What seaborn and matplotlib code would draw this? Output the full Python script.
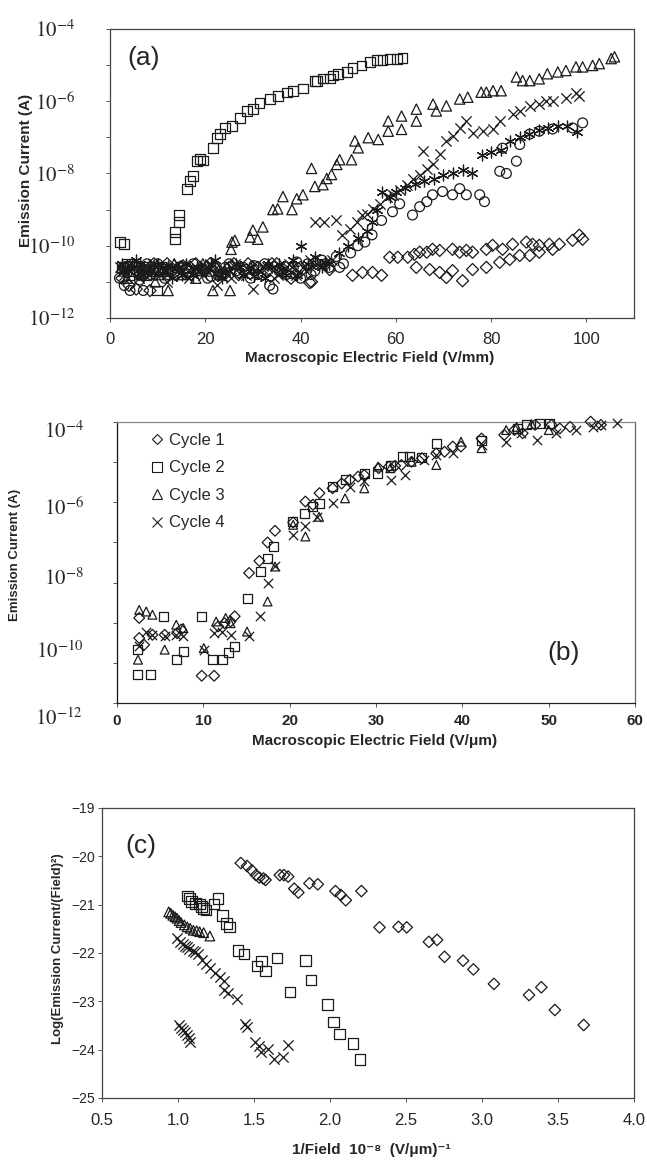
import numpy as np
import matplotlib
matplotlib.use("Agg")
import matplotlib.pyplot as plt
import matplotlib.transforms as mtrans
from matplotlib.lines import Line2D
from matplotlib.ticker import FixedLocator, NullFormatter
import seaborn as sns

# ---------------- panel (a): field in V/mm, current as log10 exponent ----------------
a_sq_x = [2.1, 2.9, 3.5, 4.8, 6.0, 7.5, 9.0, 9.9, 10.8, 12.0, 13.6, 13.6, 14.4, 14.4, 16.1, 16.8, 17.4, 18.2,
          18.9, 19.5, 21.6, 22.4, 23.1, 24.1, 25.6, 27.3, 28.7, 30.0, 31.4, 33.5, 35.2, 37.1, 38.4, 40.5, 43.0,
          43.4, 44.7, 46.1, 46.8, 47.8, 49.7, 50.9, 52.8, 54.5, 56.0, 57.2, 58.7, 60.2, 61.4,
          2.5, 4.0, 5.4, 6.8, 8.2, 11.5]
a_sq_e = [-9.9, -9.95, -10.5, -10.7, -10.6, -10.8, -10.7, -11.24, -10.6, -10.7, -9.82, -9.62, -9.34, -9.15,
          -8.42, -8.22, -8.08, -7.66, -7.61, -7.64, -7.30, -7.02, -6.91, -6.74, -6.69, -6.46, -6.27, -6.21,
          -6.04, -5.93, -5.85, -5.76, -5.71, -5.65, -5.43, -5.45, -5.37, -5.37, -5.29, -5.25, -5.20, -5.09,
          -5.01, -4.92, -4.87, -4.87, -4.84, -4.84, -4.81,
          -10.6, -10.8, -10.55, -10.7, -10.6, -10.65]

a_tri_x = [2.5, 3.5, 5.0, 6.5, 8.0, 9.5, 11.0, 12.2, 13.5, 15.0, 16.5, 18.0, 19.5, 21.0, 21.6, 23.0, 24.5, 25.2,
           25.6, 26.2, 25.4, 29.4, 31.0, 30.0, 32.1, 34.2, 35.2, 36.3, 38.2, 39.2, 40.5, 42.3, 43.0, 44.7, 45.5,
           46.5, 47.6, 48.2, 50.7, 51.4, 52.1, 54.2, 56.3, 58.4, 58.4, 61.2, 61.2, 64.3, 64.3, 67.8, 68.5, 70.6,
           73.4, 75.1, 77.9, 79.0, 80.4, 82.1, 85.3, 86.6, 88.1, 90.1, 91.8, 94.0, 95.7, 97.8, 99.2, 101.3,
           102.7, 105.2, 105.9,
           3.0, 4.2, 7.2, 10.2, 14.2, 17.2, 20.2, 22.5]
a_tri_e = [-10.6, -10.9, -10.5, -10.8, -10.6, -11.0, -10.7, -11.24, -10.5, -10.8, -10.6, -10.9, -10.5, -10.7,
           -11.24, -10.8, -10.6, -11.24, -9.90, -9.85, -10.1, -9.76, -9.82, -9.57, -9.48, -9.0, -8.98, -8.64,
           -9.0, -8.70, -8.59, -7.86, -8.36, -8.31, -8.14, -8.03, -7.75, -7.62, -7.62, -7.10, -7.29, -7.01,
           -7.06, -6.55, -6.83, -6.41, -6.78, -6.22, -6.55, -6.08, -6.27, -6.13, -5.94, -5.89, -5.75, -5.75,
           -5.71, -5.71, -5.33, -5.43, -5.43, -5.38, -5.24, -5.19, -5.15, -5.05, -5.05, -5.01, -4.96, -4.82,
           -4.77,
           -10.7, -10.55, -10.65, -10.8, -10.6, -10.7, -10.55, -10.75]

a_x_x = [2.0, 3.0, 4.5, 6.0, 7.5, 9.0, 10.5, 12.0, 13.5, 15.0, 16.5, 18.0, 19.5, 21.0, 22.5, 24.0, 25.5, 27.0,
         28.5, 30.0, 31.5, 33.0, 34.5, 36.0, 37.5, 39.0, 40.5, 42.0, 43.5, 43.0, 45.0, 47.5, 48.8, 50.3, 51.8,
         52.8, 53.9, 55.1, 56.6, 58.1, 59.3, 60.8, 62.3, 63.5, 65.0, 65.8, 66.5, 67.7, 69.2, 70.6, 71.9, 73.4,
         74.8, 76.1, 78.2, 80.3, 81.8, 84.5, 86.0, 88.1, 90.1, 91.6, 92.9, 95.8, 97.9, 98.5,
         2.7, 5.2, 8.2, 11.2, 14.2, 17.2, 20.2, 23.2, 26.2, 29.2, 32.2, 35.2, 38.2, 41.2, 44.2, 46.5]
a_x_e = [-10.6, -10.8, -10.5, -10.9, -10.7, -10.5, -10.8, -11.0, -10.6, -10.7, -10.9, -10.6, -10.8, -10.5,
         -11.1, -10.7, -10.9, -10.6, -10.8, -11.2, -10.7, -10.6, -10.9, -10.7, -10.5, -10.8, -10.6, -10.4,
         -10.5, -9.35, -9.35, -9.30, -9.71, -9.54, -9.34, -9.15, -9.12, -8.98, -8.84, -8.64, -8.59, -8.45,
         -8.31, -8.14, -8.03, -7.38, -7.89, -7.75, -7.47, -7.10, -6.97, -6.74, -6.55, -6.88, -6.83, -6.77,
         -6.55, -6.36, -6.27, -6.13, -6.07, -5.99, -5.99, -5.90, -5.76, -5.85,
         -10.7, -10.55, -10.8, -10.6, -10.5, -10.75, -10.65, -10.8, -10.5, -10.7, -10.55, -10.8, -10.6,
         -10.7, -10.5, -10.4]

a_ast_x = [2.5, 4.0, 5.5, 7.0, 8.5, 10.0, 11.5, 13.0, 14.5, 16.0, 17.5, 19.0, 20.5, 22.0, 23.5, 25.0, 26.5,
           28.0, 29.5, 31.0, 32.5, 34.0, 35.5, 37.0, 38.5, 40.0, 41.5, 43.0, 44.5, 46.0, 48.0, 50.0, 52.0,
           54.0, 55.0, 56.0, 57.0, 58.7, 60.0, 62.0, 64.0, 66.0, 68.0, 70.0, 72.0, 74.0, 76.0, 78.0, 80.0,
           82.0, 84.0, 86.0, 88.0, 90.0, 92.0, 94.0, 96.0, 98.0,
           3.2, 6.2, 9.2, 12.2, 15.2, 18.2, 21.2, 24.2, 27.2, 30.2, 33.2, 36.2, 39.2, 42.2, 45.2]
a_ast_e = [-10.5, -10.7, -10.4, -10.8, -10.6, -10.5, -10.7, -10.9, -10.6, -10.5, -10.8, -10.7, -10.6, -10.4,
           -10.9, -10.7, -10.5, -10.8, -10.6, -10.7, -10.9, -10.6, -10.5, -10.8, -10.4, -10.0, -10.5, -10.3,
           -10.6, -10.5, -10.2, -10.0, -9.8, -9.6, -9.35, -9.0, -8.5, -8.64, -8.5, -8.4, -8.3, -8.2, -8.15,
           -8.05, -8.0, -7.9, -8.0, -7.5, -7.4, -7.35, -7.1, -7.0, -6.9, -6.8, -6.75, -6.7, -6.7, -6.85,
           -10.6, -10.5, -10.75, -10.55, -10.8, -10.6, -10.5, -10.75, -10.6, -10.85, -10.5, -10.65, -10.8,
           -10.55, -10.45]

a_ci_x = [2.0, 3.0, 4.2, 5.5, 7.0, 8.5, 10.0, 11.5, 13.0, 14.5, 16.0, 17.5, 19.0, 20.5, 22.0, 23.5, 25.0,
          26.5, 28.0, 29.5, 31.0, 32.5, 33.5, 34.2, 35.5, 37.0, 38.5, 40.0, 41.5, 43.0, 44.5, 46.0, 47.5,
          49.0, 50.5, 52.0, 53.5, 55.0, 57.0, 59.3, 60.8, 63.5, 65.0, 66.5, 67.7, 69.8, 71.9, 73.4, 74.8,
          77.6, 78.6, 81.8, 82.4, 83.2, 85.3, 86.0, 88.1, 90.1, 92.9, 97.1, 99.2,
          2.8, 3.6, 6.2, 7.8, 9.2, 12.2, 15.2, 18.2, 21.2, 24.2, 27.2, 30.2, 36.2, 39.2, 42.2, 45.2, 48.2]
a_ci_e = [-10.9, -11.1, -11.24, -10.7, -11.24, -10.8, -10.5, -10.9, -10.7, -10.6, -10.8, -10.5, -10.7, -10.9,
          -10.6, -10.8, -10.5, -10.7, -10.6, -10.9, -10.8, -10.5, -11.1, -11.2, -10.7, -10.8, -10.6, -10.9,
          -10.5, -10.7, -10.4, -10.6, -10.3, -10.5, -10.2, -10.0, -9.9, -9.7, -9.3, -9.06, -8.84, -9.15,
          -8.92, -8.78, -8.59, -8.50, -8.59, -8.42, -8.59, -8.59, -8.78, -7.94, -7.3, -8.0, -7.66, -7.2,
          -6.91, -6.83, -6.77, -6.74, -6.6,
          -10.6, -10.75, -10.95, -10.5, -10.65, -10.8, -10.55, -10.7, -10.85, -10.6, -10.75, -10.55, -10.65,
          -10.45, -10.8, -10.5, -10.6]

a_di_x = [2.5, 4.0, 5.5, 7.0, 8.4, 10.0, 12.0, 14.0, 16.0, 18.0, 20.0, 22.0, 24.0, 26.0, 28.0, 30.0, 32.0,
          34.0, 36.0, 38.0, 40.0, 41.9, 42.3, 46.1, 50.9, 53.0, 55.1, 57.0, 58.7, 60.4, 62.5, 63.9, 65.0, 66.5,
          67.7, 69.2, 71.9, 73.4, 74.8, 76.1, 79.0, 80.3, 82.4, 84.5, 87.4, 88.7, 90.1, 92.2, 94.3, 97.1,
          98.5, 99.2, 64.3, 67.1, 69.2, 70.6, 71.9, 74.0, 76.1, 79.0, 81.8, 83.9, 86.0, 88.1, 90.1, 92.9,
          3.2, 6.2, 9.2, 13.0, 15.0, 17.0, 19.0, 21.0, 23.0, 25.0, 27.0, 29.0, 31.0, 33.0, 35.0, 37.0, 39.0]
a_di_e = [-10.9, -11.1, -11.2, -10.8, -11.24, -10.7, -10.5, -10.8, -10.6, -10.5, -10.7, -10.6, -10.8, -10.5,
          -10.7, -10.6, -10.8, -10.5, -10.7, -10.9, -10.6, -11.02, -11.0, -10.66, -10.82, -10.74, -10.74,
          -10.82, -10.32, -10.32, -10.32, -10.24, -10.18, -10.18, -10.10, -10.13, -10.10, -10.18, -10.13,
          -10.18, -10.10, -9.99, -10.10, -9.96, -9.90, -9.96, -9.99, -9.96, -9.96, -9.85, -9.71, -9.82,
          -10.60, -10.66, -10.74, -10.88, -10.69, -10.97, -10.66, -10.60, -10.46, -10.38, -10.27, -10.27,
          -10.18, -10.10,
          -10.6, -10.8, -10.5, -10.7, -10.6, -10.8, -10.6, -10.5, -10.7, -10.6, -10.8, -10.5, -10.6, -10.7,
          -10.5, -10.6, -10.8]

# ---------------- panel (b): field in V/um, current as log10 exponent ----------------
b_c1_x = [2.56, 2.56, 3.13, 4.09, 5.51, 6.95, 7.42, 9.80, 11.24, 11.71, 12.43, 13.14, 13.62, 15.29, 16.48,
          17.43, 18.29, 20.39, 21.81, 22.68, 23.44, 24.96, 26.01, 26.97, 27.92, 28.63, 30.30, 31.49, 32.21,
          32.92, 34.11, 35.31, 36.97, 37.93, 38.88, 39.83, 42.21, 44.84, 46.03, 46.98, 48.42, 50.32, 51.28,
          52.47, 54.85, 56.04]
b_c1_e = [-8.88, -9.38, -9.55, -9.30, -9.30, -9.26, -9.17, -10.32, -10.32, -9.09, -9.01, -8.97, -8.84, -7.76,
          -7.46, -7.00, -6.71, -6.50, -5.98, -6.06, -5.77, -5.65, -5.53, -5.44, -5.36, -5.32, -5.15, -5.11,
          -5.09, -5.07, -4.99, -4.90, -4.78, -4.74, -4.61, -4.61, -4.41, -4.32, -4.20, -4.28, -4.07, -4.07,
          -4.16, -4.12, -3.99, -4.07]

b_c2_x = [2.42, 2.42, 3.85, 5.42, 6.85, 7.66, 9.80, 11.0, 12.19, 12.90, 13.62, 15.05, 16.57, 17.43, 18.15,
          20.29, 21.72, 22.68, 23.39, 24.96, 26.40, 28.63, 30.21, 31.64, 33.07, 33.88, 35.31, 36.97, 42.21,
          46.41, 47.46, 48.90, 50.09]
b_c2_e = [-9.67, -10.30, -10.30, -8.84, -9.92, -9.71, -8.84, -9.92, -9.92, -9.75, -9.59, -8.39, -7.72, -7.39,
          -7.10, -6.48, -6.29, -6.11, -6.04, -5.61, -5.44, -5.28, -5.28, -5.09, -4.86, -4.86, -4.88, -4.53,
          -4.45, -4.16, -4.07, -4.03, -4.03]

b_c3_x = [2.56, 3.37, 4.09, 2.42, 5.51, 6.85, 7.66, 10.04, 11.47, 12.57, 13.14, 15.05, 17.43, 18.29, 20.39,
          21.81, 23.39, 26.40, 28.63, 30.21, 31.64, 34.11, 36.97, 39.83, 42.21, 45.07, 46.27, 48.0, 50.0]
b_c3_e = [-8.68, -8.72, -8.80, -9.92, -9.67, -9.05, -9.13, -9.63, -8.97, -8.88, -9.01, -9.22, -8.47, -7.60,
          -6.56, -6.85, -6.36, -5.90, -5.65, -5.11, -5.15, -4.99, -5.07, -4.49, -4.65, -4.20, -4.12, -4.05,
          -4.20]

b_c4_x = [2.56, 3.37, 4.09, 5.51, 6.85, 7.66, 10.04, 11.24, 12.19, 13.14, 15.29, 16.57, 17.43, 18.29, 20.39,
          21.81, 23.17, 24.96, 26.97, 28.63, 31.74, 33.40, 35.55, 36.97, 38.88, 42.21, 45.07, 46.75, 48.65,
          50.80, 53.18, 55.09, 56.04, 57.95]
b_c4_e = [-9.59, -9.22, -9.30, -9.34, -9.30, -9.34, -9.67, -9.26, -9.22, -9.30, -9.34, -8.84, -8.01, -7.58,
          -6.81, -6.60, -6.36, -6.02, -5.61, -5.48, -5.44, -5.32, -4.95, -4.82, -4.78, -4.57, -4.49, -4.28,
          -4.45, -4.28, -4.20, -4.12, -4.07, -4.03]

b_legend = ["Cycle 1", "Cycle 2", "Cycle 3", "Cycle 4"]
b_ytick_exp = [-4.2, -6.11, -7.86, -9.67]
b_ytick_labels = [r"$10^{-4}$", r"$10^{-6}$", r"$10^{-8}$", r"$10^{-10}$"]

# ---------------- panel (c): Fowler-Nordheim plot ----------------
c_di_x = [1.413, 1.454, 1.486, 1.513, 1.535, 1.562, 1.576, 1.670, 1.697, 1.725, 1.765, 1.792, 1.865, 1.920,
          2.036, 2.071, 2.104, 2.207, 2.326, 2.451, 2.505, 2.651, 2.705, 2.754, 2.876, 2.944, 3.079, 3.310,
          3.391, 3.480, 3.670]
c_di_y = [-20.14, -20.20, -20.29, -20.39, -20.44, -20.46, -20.49, -20.39, -20.39, -20.42, -20.67, -20.75,
          -20.56, -20.58, -20.72, -20.80, -20.91, -20.72, -21.47, -21.46, -21.47, -21.77, -21.73, -22.08,
          -22.16, -22.34, -22.64, -22.87, -22.71, -23.18, -23.49]
c_sq_x = [1.061, 1.074, 1.088, 1.115, 1.142, 1.156, 1.169, 1.183, 1.237, 1.264, 1.291, 1.318, 1.337, 1.394,
          1.435, 1.521, 1.548, 1.576, 1.651, 1.738, 1.838, 1.874, 1.982, 2.023, 2.063, 2.153, 2.199]
c_sq_y = [-20.82, -20.87, -20.94, -20.98, -20.99, -21.04, -21.08, -21.11, -20.99, -20.87, -21.22, -21.39,
          -21.46, -21.95, -22.02, -22.27, -22.17, -22.37, -22.10, -22.81, -22.15, -22.56, -23.07, -23.43,
          -23.68, -23.87, -24.20]
c_tri_x = [0.939, 0.952, 0.966, 0.980, 0.993, 1.007, 1.020, 1.042, 1.061, 1.080, 1.101, 1.123, 1.142, 1.169,
           1.210]
c_tri_y = [-21.15, -21.18, -21.22, -21.25, -21.28, -21.33, -21.37, -21.42, -21.46, -21.49, -21.53, -21.54,
           -21.56, -21.58, -21.65]
c_x_x = [0.993, 1.015, 1.034, 1.047, 1.061, 1.074, 1.096, 1.115, 1.129, 1.156, 1.183, 1.210, 1.242, 1.278,
         1.305, 1.305, 1.332, 1.386, 1.007, 1.020, 1.034, 1.047, 1.061, 1.074, 1.080, 1.440, 1.454, 1.508,
         1.530, 1.548, 1.589, 1.630, 1.692, 1.725]
c_x_y = [-21.70, -21.77, -21.81, -21.86, -21.88, -21.92, -21.95, -21.97, -22.02, -22.15, -22.23, -22.32,
         -22.42, -22.49, -22.59, -22.76, -22.83, -22.96, -23.49, -23.56, -23.60, -23.64, -23.69, -23.76,
         -23.85, -23.47, -23.53, -23.85, -23.93, -24.04, -23.99, -24.20, -24.15, -23.90]

sns.set_theme(style="white")
plt.rcParams['font.family'] = ['Liberation Sans', 'DejaVu Sans']
plt.rcParams['mathtext.fontset'] = 'stix'
plt.rcParams['axes.edgecolor'] = '#444444'
plt.rcParams['axes.linewidth'] = 0.9

SERIF = ['Liberation Serif', 'DejaVu Serif']
UNFILLED = ('x', (6, 2, 0))


def dots(ax, x, v, marker, size, log=True):
    y = 10.0 ** np.asarray(v) if log else np.asarray(v)
    if marker in UNFILLED:
        sns.scatterplot(x=x, y=y, ax=ax, marker=marker, s=size, color='k', linewidth=0.9,
                        clip_on=False, zorder=3)
    else:
        sns.scatterplot(x=x, y=y, ax=ax, marker=marker, s=size, color='k', facecolors='none',
                        edgecolor='k', linewidth=0.9, clip_on=False, zorder=3)


fig = plt.figure(figsize=(6.47, 11.63), dpi=100)
ax_a = fig.add_axes([0.170, 0.7266, 0.810, 0.2485])
ax_b = fig.add_axes([0.181, 0.3955, 0.8006, 0.2416])
ax_c = fig.add_axes([0.1577, 0.0559, 0.822, 0.2494])

# ---- (a)
ax = ax_a
dots(ax, a_di_x, a_di_e, 'D', 38)
dots(ax, a_ci_x, a_ci_e, 'o', 50)
dots(ax, a_ast_x, a_ast_e, (6, 2, 0), 60)
dots(ax, a_x_x, a_x_e, 'x', 55)
dots(ax, a_tri_x, a_tri_e, '^', 55)
dots(ax, a_sq_x, a_sq_e, 's', 50)
ax.set_yscale('log')
ax.set_ylim(1e-12, 1e-4)
ax.set_xlim(0, 110)
ax.set_xticks([0, 20, 40, 60, 80, 100])
ax.set_yticks(10.0 ** np.arange(-12, -3, 2),
              labels=[r"$10^{-12}$", r"$10^{-10}$", r"$10^{-8}$", r"$10^{-6}$", r"$10^{-4}$"])
ax.yaxis.set_minor_locator(FixedLocator(10.0 ** np.arange(-12, -3)))
ax.yaxis.set_minor_formatter(NullFormatter())
ax.tick_params(axis='y', which='both', direction='out', length=3, width=0.7, color='#555555',
               left=True, pad=22, labelsize=15)
ax.tick_params(axis='x', direction='out', length=3, width=0.7, color='#555555', bottom=True,
               labelsize=12, pad=7)
for t in ax.get_yticklabels():
    t.set_fontfamily(SERIF)
ax.set_xlabel("Macroscopic Electric Field (V/mm)", fontsize=11, fontweight='bold')
ax.xaxis.set_label_coords(0.496, -0.115)
ax.set_ylabel("Emission Current (A)", fontsize=11, fontweight='bold')
ax.yaxis.set_label_coords(-0.147, 0.51)
ax.text(0.034, 0.90, "(a)", transform=ax.transAxes, fontsize=19, va='center', ha='left')

# ---- (b)
ax = ax_b
dots(ax, b_c1_x, b_c1_e, 'D', 30)
dots(ax, b_c2_x, b_c2_e, 's', 42)
dots(ax, b_c3_x, b_c3_e, '^', 40)
dots(ax, b_c4_x, b_c4_e, 'x', 45)
ax.set_yscale('log')
ax.set_ylim(1e-11, 1e-4)
ax.set_xlim(0, 60)
ax.set_xticks(np.arange(0, 61, 10))
ax.yaxis.set_minor_locator(FixedLocator(10.0 ** np.arange(-11, -3)))
ax.yaxis.set_minor_formatter(NullFormatter())
ax.set_yticks(10.0 ** np.array(b_ytick_exp), labels=b_ytick_labels)
ax.tick_params(axis='y', which='major', length=0, pad=24, labelsize=15)
ax.tick_params(axis='y', which='minor', direction='out', length=3, width=0.7, color='#555555', left=True)
ax.tick_params(axis='x', direction='out', length=3, width=0.7, color='#555555', bottom=True,
               labelsize=11, pad=5)
for t in ax.get_yticklabels():
    t.set_fontfamily(SERIF)
for t in ax.get_xticklabels():
    t.set_fontweight('bold')
blend = mtrans.blended_transform_factory(ax.transAxes, ax.transData)
ax.text(-0.067, 10 ** -11.41, r"$10^{-12}$", transform=blend, ha='right', va='center', fontsize=15,
        family=SERIF, clip_on=False)
ax.spines['left'].set_color('#111111')
ax.spines['bottom'].set_color('#222222')
ax.spines['top'].set_color('#888888')
ax.spines['right'].set_color('#666666')
ax.set_xlabel("Macroscopic Electric Field (V/\u03bcm)", fontsize=11, fontweight='bold')
ax.xaxis.set_label_coords(0.497, -0.11)
ax.set_ylabel("Emission Current (A)", fontsize=9.5, fontweight='bold')
ax.yaxis.set_label_coords(-0.185, 0.527)
ax.text(0.861, 0.178, "(b)", transform=ax.transAxes, fontsize=19, va='center', ha='center')
handles = [Line2D([], [], linestyle='none', marker=m, markersize=ms, markerfacecolor='none',
                  markeredgecolor='k', color='k', markeredgewidth=0.8)
           for m, ms in zip(['D', 's', '^', 'x'], [5, 6.5, 6.5, 7])]
ax.legend(handles, b_legend, loc='upper left', bbox_to_anchor=(0.045, 0.985), frameon=False,
          fontsize=12, handletextpad=0.1, labelspacing=0.75, handlelength=1.2, borderaxespad=0)

# ---- (c)
ax = ax_c
dots(ax, c_di_x, c_di_y, 'D', 34, log=False)
dots(ax, c_sq_x, c_sq_y, 's', 58, log=False)
dots(ax, c_tri_x, c_tri_y, '^', 48, log=False)
dots(ax, c_x_x, c_x_y, 'x', 55, log=False)
ax.set_xlim(0.5, 4.0)
ax.set_ylim(-25, -19)
ax.set_xticks(np.arange(0.5, 4.01, 0.5), labels=[f"{v:.1f}" for v in np.arange(0.5, 4.01, 0.5)])
ax.set_yticks(np.arange(-25, -18.9, 1))
ax.tick_params(axis='both', direction='out', length=3, width=0.7, color='#555555', left=True,
               bottom=True)
ax.tick_params(axis='x', labelsize=12, pad=8)
ax.tick_params(axis='y', labelsize=10, pad=2)
ax.set_xlabel("1/Field  10\u207b\u2078  (V/\u03bcm)\u207b\u00b9", fontsize=11, fontweight='bold')
ax.xaxis.set_label_coords(0.506, -0.155)
ax.set_ylabel("Log(Emission Current/(Field)\u00b2)", fontsize=9.5, fontweight='bold')
ax.yaxis.set_label_coords(-0.071, 0.514)
ax.text(0.043, 0.869, "(c)", transform=ax.transAxes, fontsize=19, va='center', ha='left')

fig.savefig("out.png", dpi=100, facecolor='white')
